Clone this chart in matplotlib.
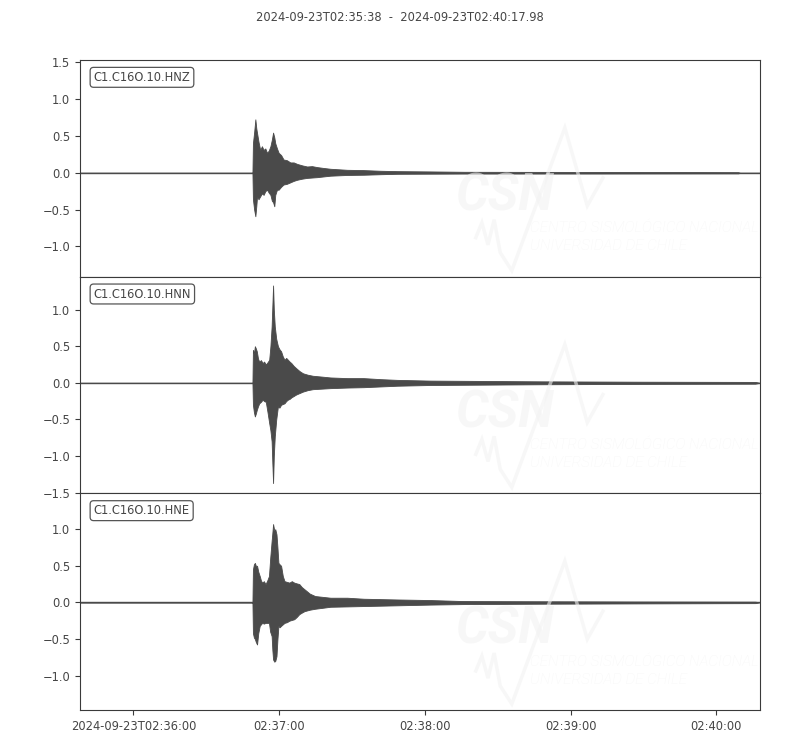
import matplotlib
matplotlib.use("Agg")
import matplotlib.pyplot as plt
from matplotlib.ticker import MultipleLocator, FixedLocator, FixedFormatter
import numpy as np

# ---------------- data ----------------
title = "2024-09-23T02:35:38  -  2024-09-23T02:40:17.98"
channels = ["C1.C16O.10.HNZ", "C1.C16O.10.HNN", "C1.C16O.10.HNE"]
duration = 279.98  # seconds from 02:35:38 to 02:40:17.98
tick_seconds = [22, 82, 142, 202, 262]
tick_labels = ["2024-09-23T02:36:00", "02:37:00", "02:38:00", "02:39:00", "02:40:00"]
ylims = [(-1.41, 1.53), (-1.51, 1.45), (-1.47, 1.49)]

# envelope of each trace (seconds since start, upper, lower)
z_t = [0, 71.0, 71.2, 71.7, 72.2, 72.6, 72.9, 73.5, 74.2, 74.9, 75.6, 76.3, 77.0,
       77.7, 78.4, 79.0, 79.5, 80.0, 80.4, 81.1, 81.8, 82.8, 83.8, 85.2, 86.6,
       88.0, 89.4, 91.5, 93.5, 95.5, 97.6, 100.3, 103.1, 110.0, 116.8, 123.7, 130.6,
       144.3, 158.1, 180, 210, 240, 271, 272, 279.98]
z_up = [0, 0, 0.40, 0.55, 0.725, 0.60, 0.54, 0.42, 0.31, 0.36, 0.31, 0.33, 0.27,
        0.30, 0.36, 0.45, 0.545, 0.48, 0.40, 0.33, 0.27, 0.24, 0.18, 0.17, 0.14,
        0.14, 0.12, 0.10, 0.085, 0.09, 0.077, 0.065, 0.054, 0.04, 0.036, 0.027, 0.022,
        0.018, 0.013, 0.012, 0.011, 0.010, 0.008, 0, 0]
z_lo = [0, 0, -0.36, -0.50, -0.59, -0.45, -0.32, -0.36, -0.32, -0.28, -0.30, -0.25,
        -0.23, -0.27, -0.30, -0.38, -0.40, -0.455, -0.30, -0.23, -0.23, -0.19, -0.16,
        -0.15, -0.13, -0.11, -0.095, -0.08, -0.07, -0.065, -0.06, -0.05, -0.04, -0.03,
        -0.027, -0.02, -0.014, -0.012, -0.01, -0.01, -0.01, -0.009, -0.008, 0, 0]

n_t = [0, 71.0, 71.2, 71.6, 72.0, 72.4, 72.8, 73.3, 73.8, 74.5, 75.2, 75.8, 76.5,
       77.2, 77.9, 78.4, 78.9, 79.2, 79.5, 79.8, 80.2, 80.8, 81.5, 82.1, 82.8, 83.5,
       84.2, 84.9, 85.6, 86.3, 87.0, 88.0, 89.0, 90.4, 91.8, 93.8, 95.9, 99.5, 103.1,
       110.0, 116.8, 123.7, 130.6, 144.3, 158.1, 190, 230, 278, 279.98]
n_up = [0, 0, 0.45, 0.40, 0.50, 0.47, 0.43, 0.33, 0.29, 0.31, 0.27, 0.29, 0.25,
        0.28, 0.315, 0.50, 0.77, 1.05, 1.33, 1.0, 0.77, 0.60, 0.50, 0.46, 0.43, 0.36,
        0.315, 0.34, 0.315, 0.29, 0.27, 0.23, 0.20, 0.16, 0.13, 0.11, 0.096, 0.085,
        0.073, 0.064, 0.064, 0.05, 0.04, 0.03, 0.027, 0.02, 0.015, 0.012, 0]
n_lo = [0, 0, -0.30, -0.40, -0.46, -0.42, -0.37, -0.32, -0.28, -0.26, -0.23, -0.25,
        -0.26, -0.40, -0.55, -0.65, -0.80, -1.10, -1.37, -1.0, -0.73, -0.50, -0.32,
        -0.34, -0.30, -0.29, -0.28, -0.25, -0.23, -0.22, -0.20, -0.18, -0.16, -0.14,
        -0.12, -0.10, -0.087, -0.08, -0.073, -0.065, -0.06, -0.05, -0.04, -0.03,
        -0.027, -0.02, -0.015, -0.012, 0]

e_t = [0, 71.0, 71.2, 71.6, 72.0, 72.4, 72.9, 73.4, 74.0, 74.5, 75.0, 75.7, 76.4,
       77.1, 77.8, 78.3, 78.9, 79.2, 79.5, 80.0, 80.4, 80.9, 81.3, 81.7, 82.2, 82.8,
       83.5, 84.2, 85.2, 86.2, 87.2, 88.2, 89.2, 90.3, 91.3, 92.4, 94.6, 96.8, 103.1,
       110.0, 116.8, 130.6, 144.3, 158.1, 190, 230, 278, 279.98]
e_up = [0, 0, 0.45, 0.52, 0.54, 0.50, 0.50, 0.42, 0.36, 0.30, 0.27, 0.29, 0.25, 0.30,
        0.36, 0.60, 0.84, 0.95, 1.07, 0.98, 1.0, 0.93, 0.75, 0.54, 0.52, 0.50, 0.36,
        0.29, 0.28, 0.27, 0.29, 0.27, 0.26, 0.25, 0.21, 0.18, 0.12, 0.087, 0.064, 0.064,
        0.05, 0.04, 0.032, 0.018, 0.015, 0.012, 0.01, 0]
e_lo = [0, 0, -0.42, -0.48, -0.50, -0.54, -0.575, -0.42, -0.32, -0.30, -0.28, -0.29,
        -0.28, -0.28, -0.28, -0.40, -0.46, -0.65, -0.78, -0.81, -0.80, -0.735, -0.50,
        -0.32, -0.34, -0.32, -0.30, -0.28, -0.27, -0.25, -0.24, -0.23, -0.20, -0.16,
        -0.14, -0.12, -0.10, -0.087, -0.06, -0.055, -0.05, -0.04, -0.03, -0.023,
        -0.018, -0.014, -0.01, 0]

traces = [(z_t, z_up, z_lo), (n_t, n_up, n_lo), (e_t, e_up, e_lo)]

# ---------------- style ----------------
fs = 8.3
txt_col = "#454545"
line_col = "#4a4a4a"
plt.rcParams["font.family"] = ["DejaVu Sans"]
plt.rcParams["font.size"] = fs
plt.rcParams["text.color"] = txt_col
plt.rcParams["axes.edgecolor"] = "#3a3a3a"
plt.rcParams["xtick.color"] = "#3a3a3a"
plt.rcParams["ytick.color"] = "#3a3a3a"
plt.rcParams["xtick.labelcolor"] = txt_col
plt.rcParams["ytick.labelcolor"] = txt_col

fig = plt.figure(figsize=(8, 7.5), dpi=100)
left, right, top, bottom = 0.1, 0.95, 0.92, 1 - 710 / 750
h = (top - bottom) / 3

wm_col = "#f2f2f2"
wm_alpha = 0.6
for i, (ch, (t, up, lo)) in enumerate(zip(channels, traces)):
    ax = fig.add_axes([left, top - (i + 1) * h, right - left, h])
    ax.fill_between(t, lo, up, color=line_col, lw=0.6, zorder=2)
    ax.plot([0, duration], [0, 0], color=line_col, lw=1.0, zorder=2)
    ax.set_xlim(0, duration)
    ax.set_ylim(*ylims[i])
    ax.yaxis.set_major_locator(MultipleLocator(0.5))
    ax.tick_params(axis="y", labelsize=fs, length=3.5, width=0.8)
    ax.text(0.02, 0.95, ch, transform=ax.transAxes, va="top", ha="left",
            fontsize=fs, color=txt_col, zorder=6,
            bbox=dict(boxstyle="round,pad=0.3", fc="w", ec="#555555", lw=0.9))
    # faint watermark logo
    ax.text(0.551, 0.305, "CSN", transform=ax.transAxes, fontsize=37,
            fontweight="bold", fontstyle="italic", color=wm_col, alpha=wm_alpha,
            family="Roboto", ha="left", va="baseline", zorder=5, clip_on=True)
    ax.text(0.662, 0.205, "CENTRO SISMOLÓGICO NACIONAL", transform=ax.transAxes,
            fontsize=11, fontstyle="italic", fontweight="light", color=wm_col,
            alpha=wm_alpha, family="Roboto", ha="left", va="baseline", zorder=5,
            clip_on=True)
    ax.text(0.662, 0.122, "UNIVERSIDAD DE CHILE", transform=ax.transAxes,
            fontsize=11, fontstyle="italic", fontweight="light", color=wm_col,
            alpha=wm_alpha, family="Roboto", ha="left", va="baseline", zorder=5,
            clip_on=True)
    wx = [0.582, 0.591, 0.600, 0.609, 0.618, 0.635, 0.713, 0.746, 0.769]
    wy = [0.180, 0.249, 0.147, 0.263, 0.111, 0.028, 0.687, 0.327, 0.456]
    ax.plot(wx, wy, transform=ax.transAxes, color=wm_col, alpha=wm_alpha, lw=2.5,
            zorder=5, solid_joinstyle="miter")
    if i < 2:
        ax.tick_params(axis="x", bottom=False, labelbottom=False)
    else:
        ax.xaxis.set_major_locator(FixedLocator(tick_seconds))
        ax.xaxis.set_major_formatter(FixedFormatter(tick_labels))
        ax.tick_params(axis="x", labelsize=fs, length=3.5, width=0.8)

fig.suptitle(title, y=0.985, fontsize=fs, color=txt_col)
fig.savefig("out.png", dpi=100)
